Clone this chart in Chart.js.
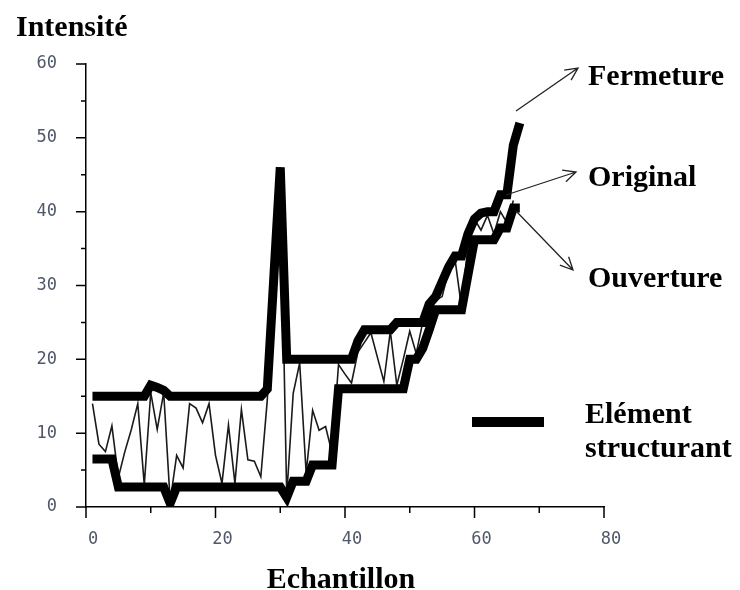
<!DOCTYPE html>
<html>
<head>
<meta charset="utf-8">
<script src="https://cdn.jsdelivr.net/npm/chart.js@4/dist/chart.umd.min.js"></script>
<style>
  html, body { margin: 0; padding: 0; background: #fff; }
  #wrap { width: 740px; height: 590px; }
</style>
</head>
<body>
<div id="wrap"><canvas id="morphoChart" width="740" height="590"></canvas></div>
<script>
// echantillons (axe x)
const samples = [1,2,3,4,5,6,7,8,9,10,11,12,13,14,15,16,17,18,19,20,
  21,22,23,24,25,26,27,28,29,30,31,32,33,34,35,36,37,38,39,40,
  41,42,43,44,45,46,47,48,49,50,51,52,53,54,55,56,57,58,59,60,
  61,62,63,64,65,66,67]

// signal original (echantillons 1..66)
const original = [14,8.5,7.5,11,4,7.5,10.5,14,3,15.5,10.5,15.5,0.8,7,5.3,14,13.4,11.4,14,7,
  3.2,11.1,3.2,13.2,6.4,6.2,4.1,14.5,31,46,1.5,15.4,19.5,4.6,13.1,10.4,10.9,7.3,19.3,18,
  16.8,21,22.3,23.6,20.3,17,23.8,16.5,20,23.8,20.8,25,26.5,28,28.5,32,33.5,27,35.5,39,
  37.5,39.5,37,40,38.5,41.5]

// fermeture (echantillons 1..67)
const fermeture = [15,15,15,15,15,15,15,15,15,16.5,16.2,15.8,15,15,15,15,15,15,15,15,
  15,15,15,15,15,15,15,16,31,46,20,20,20,20,20,20,20,20,20,20,
  20,22.5,24,24,24,24,24,25,25,25,25,25,27.5,28.5,30.5,32.5,34,34,37,39,
  39.8,40,40,42.3,42.3,49,52]

// ouverture (echantillons 1..67)
const ouverture = [6.5,6.5,6.5,6.5,2.7,2.7,2.7,2.7,2.7,2.7,2.7,2.7,0.5,2.7,2.7,2.7,2.7,2.7,2.7,2.7,
  2.7,2.7,2.7,2.7,2.7,2.7,2.7,2.7,2.7,2.7,1.3,3.5,3.5,3.5,5.7,5.7,5.7,5.7,16,16,
  16,16,16,16,16,16,16,16,16,20,20,21.5,24,26.7,26.7,26.7,26.7,26.7,31.5,36.2,
  36.2,36.2,36.2,37.8,37.8,40.5,40.5]

const xTicks = [0,20,40,60,80]
const yTicks = [0,10,20,30,40,50,60]

const serif = '"Liberation Serif", "Times New Roman", serif'
const tickFont = { family: '"DejaVu Sans Mono", monospace', size: 17 }
const tickColor = '#4f5768'

function toPoints(values) {
  return values.map((v, i) => ({ x: samples[i], y: v }))
}

function arrow(ctx, x1, y1, x2, y2) {
  const a = Math.atan2(y2 - y1, x2 - x1)
  const h = 14
  ctx.beginPath()
  ctx.moveTo(x1, y1)
  ctx.lineTo(x2, y2)
  ctx.moveTo(x2 - h * Math.cos(a - 0.45), y2 - h * Math.sin(a - 0.45))
  ctx.lineTo(x2, y2)
  ctx.lineTo(x2 - h * Math.cos(a + 0.45), y2 - h * Math.sin(a + 0.45))
  ctx.stroke()
}

// petits traits des axes + textes et fleches
const decorations = {
  id: 'decorations',
  afterDraw(chart) {
    const ctx = chart.ctx
    const xs = chart.scales.x
    const ys = chart.scales.y
    const area = chart.chartArea
    ctx.save()
    ctx.strokeStyle = '#000'
    ctx.lineWidth = 1.5
    ctx.beginPath()
    for (let v = xs.min; v <= xs.max; v += 10) {
      const px = xs.getPixelForValue(v)
      const len = v % 20 === 0 ? 11 : 6
      ctx.moveTo(px, area.bottom)
      ctx.lineTo(px, area.bottom + len)
    }
    for (let v = ys.min; v <= ys.max; v += 5) {
      const py = ys.getPixelForValue(v)
      const len = v % 10 === 0 ? 10 : 5
      ctx.moveTo(area.left, py)
      ctx.lineTo(area.left - len, py)
    }
    ctx.stroke()

    ctx.fillStyle = '#000'
    ctx.font = 'bold 30px ' + serif
    ctx.textBaseline = 'alphabetic'
    ctx.textAlign = 'left'
    ctx.fillText('Intensité', 16, 36)
    ctx.fillText('Fermeture', 588, 85)
    ctx.fillText('Original', 588, 186)
    ctx.fillText('Ouverture', 588, 287)
    ctx.fillText('Elément', 585, 423)
    ctx.fillText('structurant', 585, 457)
    ctx.textAlign = 'center'
    ctx.fillText('Echantillon', (area.left + area.right) / 2 - 4, 588)

    // trait de l'element structurant
    ctx.lineWidth = 10
    ctx.beginPath()
    ctx.moveTo(472, 422)
    ctx.lineTo(544, 422)
    ctx.stroke()

    ctx.strokeStyle = '#222'
    ctx.lineWidth = 1.3
    arrow(ctx, 516, 111, 578, 68)
    arrow(ctx, 506, 195, 576, 172)
    arrow(ctx, 516, 211, 573, 270)
    ctx.restore()
  }
}

const ctx = document.getElementById('morphoChart').getContext('2d')
const myChart = new Chart(ctx, {
  type: 'line',
  data: {
    datasets: [
      { label: 'Fermeture', data: toPoints(fermeture), borderColor: '#000', borderWidth: 9, pointRadius: 0, tension: 0 },
      { label: 'Ouverture', data: toPoints(ouverture), borderColor: '#000', borderWidth: 9, pointRadius: 0, tension: 0 },
      { label: 'Original', data: toPoints(original), borderColor: '#1a1a1a', borderWidth: 1.6, pointRadius: 0, tension: 0 }
    ]
  },
  options: {
    responsive: false,
    animation: false,
    layout: { padding: { left: 0, right: 136, top: 64, bottom: 0 } },
    plugins: { legend: { display: false }, tooltip: { enabled: false } },
    scales: {
      x: {
        type: 'linear', min: 0, max: 80,
        grid: { display: false },
        border: { display: true, color: '#000', width: 1.5 },
        afterBuildTicks: s => { s.ticks = xTicks.map(v => ({ value: v })) },
        afterFit: s => { s.height = 83 },
        ticks: { font: tickFont, color: tickColor, padding: 14, labelOffset: 7, maxRotation: 0 }
      },
      y: {
        min: 0, max: 60,
        grid: { display: false },
        border: { display: true, color: '#000', width: 1.5 },
        afterBuildTicks: s => { s.ticks = yTicks.map(v => ({ value: v })) },
        afterFit: s => { s.width = 86 },
        ticks: { font: tickFont, color: tickColor, padding: 21 }
      }
    }
  },
  plugins: [decorations]
})
</script>
</body>
</html>
